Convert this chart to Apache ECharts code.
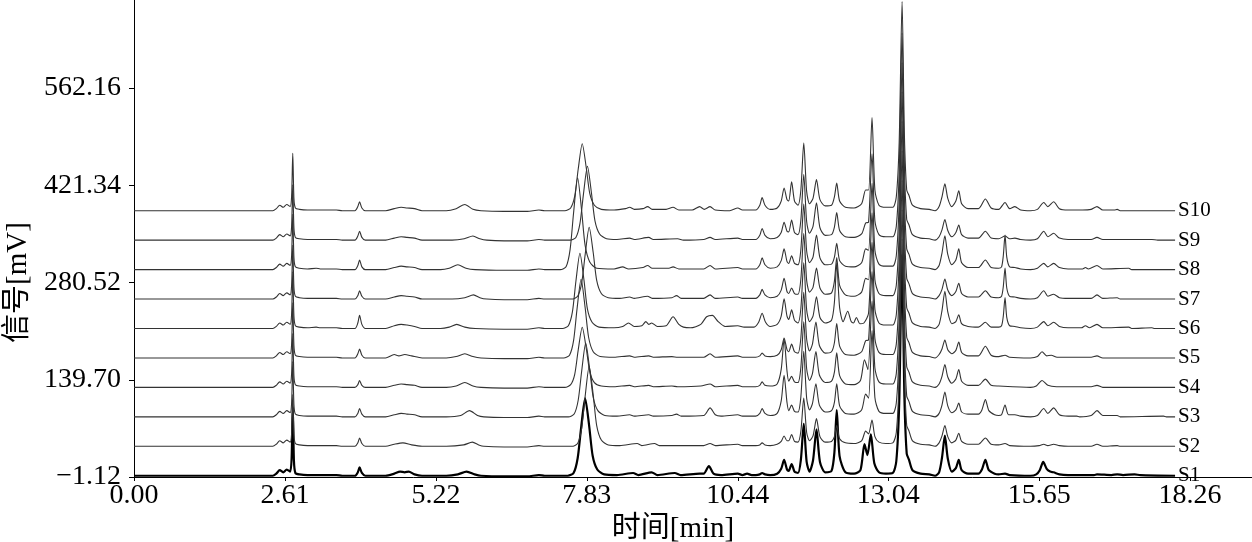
<!DOCTYPE html>
<html>
<head>
<meta charset="utf-8">
<script src="https://cdn.jsdelivr.net/npm/echarts@6/dist/echarts.min.js"></script>
<style>
html,body{margin:0;padding:0;background:#fff;}
#chart{width:1252px;height:542px;}
</style>
</head>
<body>
<div id="chart"></div>
<script>
// Tick values
const xTickValues = [0, 2.61, 5.22, 7.83, 10.44, 13.04, 15.65, 18.26];
const yTickValues = [-1.12, 139.70, 280.52, 421.34, 562.16];
const traceNames = ['S1','S2','S3','S4','S5','S6','S7','S8','S9','S10'];
// vertical offset of each stacked trace (mV)
const offsetBase = 0.7;
const offsetStep = 42.64;

// Signal of each trace relative to its own baseline: [time min, mV]
const s1 = [[0,0],[2.40,0],[2.46,3],[2.52,8],[2.58,5],[2.64,9],[2.70,6],[2.725,25],[2.745,100],[2.765,22],[2.79,4],[2.86,2],[3.0,1],[3.5,1],[3.6,0],
[3.82,0],[3.87,5],[3.90,12],[3.94,4],[4.0,0],
[4.35,0],[4.5,3],[4.6,6],[4.68,5],[4.75,6],[4.85,2],[4.98,0],
[5.4,0],[5.6,2],[5.75,6],[5.89,2],[6.0,0],[6.4,-1],[6.8,-1],[7.0,1],[7.1,0],
[7.50,0],[7.60,4],[7.67,25],[7.73,69],[7.80,112],[7.87,72],[7.93,29],[8.01,9],[8.13,2],
[8.35,1],[8.63,4],[8.72,1],[8.95,5],[9.05,1],[9.35,4],[9.45,1],[9.78,3],[9.85,3],[9.94,14],[10.02,3],[10.15,1],[10.44,3],[10.52,1],[10.6,3],[10.68,1],
[10.75,1],[10.82,2],[10.86,4],[10.91,2],[11.0,1],
[11.12,3],[11.19,10],[11.24,23],[11.29,9],[11.32,7],[11.37,17],[11.42,6],[11.48,4],
[11.53,23],[11.58,75],[11.63,20],[11.68,6],
[11.74,22],[11.80,67],[11.86,20],[11.95,5],
[12.06,7],[12.11,34],[12.15,95],[12.2,28],[12.3,5],[12.45,3],
[12.56,8],[12.63,46],[12.68,30],[12.74,60],[12.8,18],[12.88,5],[13.0,3],[13.12,4],
[13.18,21],[13.23,105],[13.28,320],[13.32,115],[13.36,32],[13.4,23],[13.46,8],[13.6,3],[13.75,2],[13.85,0],
[13.92,5],[13.97,26],[14.02,58],[14.07,25],[14.14,6],[14.21,11],[14.26,23],[14.31,8],[14.42,3],
[14.6,3],[14.66,9],[14.72,23],[14.78,8],[14.88,3],[14.95,2],
[15.06,3],[15.14,1],[15.5,0],
[15.6,2],[15.66,8],[15.72,20],[15.78,10],[15.84,6],[15.9,5],[16.0,2],[16.15,1],
[16.6,1],[16.65,2],[16.9,1],[17.0,2],[17.1,1],[17.3,2],[17.4,1],[18.0,0]];

const s2 = [[0,0],[2.40,0],[2.46,3],[2.52,8],[2.58,5],[2.64,9],[2.70,6],[2.725,19],[2.745,75],[2.765,17],[2.79,4],[2.86,2],[3.0,1],[3.5,1],[3.6,0],
[3.82,0],[3.87,5],[3.90,12],[3.94,4],[4.0,0],
[4.35,0],[4.5,3],[4.65,5],[4.8,2],[4.98,0],
[5.4,0],[5.7,2],[5.85,6],[5.96,2],[6.05,0],[6.4,-1],[6.8,-1],[7.0,1],[7.1,0],
[7.57,0],[7.67,4],[7.74,26],[7.80,72],[7.87,116],[7.94,74],[8.0,30],[8.08,9],[8.2,2],
[8.4,1],[8.7,4],[8.78,1],[9.0,4],[9.08,1],[9.85,1],[9.96,4],[10.05,1],[10.44,3],[10.52,1],
[10.75,1],[10.82,2],[10.86,5],[10.91,2],[11.0,1],
[11.12,3],[11.19,7],[11.24,15],[11.29,8],[11.32,8],[11.37,17],[11.42,7],[11.48,6],
[11.53,22],[11.58,70],[11.63,20],[11.68,8],
[11.74,15],[11.80,40],[11.86,14],[11.95,6],
[12.06,7],[12.11,14],[12.15,30],[12.2,11],[12.3,5],[12.45,4],
[12.58,8],[12.65,22],[12.7,18],[12.76,38],[12.81,14],[12.88,6],[13.0,4],[13.12,5],
[13.18,20],[13.23,100],[13.28,300],[13.32,108],[13.36,30],[13.4,22],[13.46,8],[13.6,3],[13.75,2],[13.85,0],
[13.92,5],[13.97,15],[14.02,30],[14.07,14],[14.14,5],[14.21,9],[14.26,19],[14.31,7],[14.42,3],
[14.6,3],[14.72,12],[14.82,3],[14.95,2],
[15.06,4],[15.14,1],[15.5,0],
[15.65,1],[15.73,3],[15.8,1],[15.9,3],[16.0,1],[16.15,0],[16.55,0],[16.65,3],[16.75,0],[17.0,1],[17.05,0],[18.0,0]];

const s3 = [[0,0],[2.40,0],[2.46,3],[2.52,8],[2.58,5],[2.64,9],[2.70,6],[2.725,20],[2.745,80],[2.765,18],[2.79,4],[2.86,2],[3.0,1],[3.5,1],[3.6,0],
[3.82,0],[3.87,5],[3.90,12],[3.94,4],[4.0,0],
[4.35,0],[4.5,3],[4.62,5],[4.72,4],[4.85,3],[4.98,0],
[5.4,0],[5.65,2],[5.8,9],[5.94,2],[6.05,0],[6.4,-1],[6.8,-1],[7.0,1],[7.1,0],
[7.51,0],[7.61,4],[7.68,24],[7.74,66],[7.81,107],[7.88,68],[7.94,28],[8.02,9],[8.14,2],
[8.35,1],[8.57,3],[8.65,1],[8.9,3],[8.98,1],[9.3,2],[9.38,4],[9.46,1],[9.85,2],[9.96,13],[10.05,3],[10.15,1],[10.44,3],[10.52,1],
[10.75,1],[10.82,5],[10.86,12],[10.91,5],[11.0,2],
[11.12,5],[11.19,23],[11.24,60],[11.29,21],[11.32,9],[11.37,17],[11.42,8],[11.48,7],
[11.53,29],[11.58,95],[11.63,27],[11.68,10],
[11.73,19],[11.79,48],[11.85,17],[11.95,7],
[12.06,9],[12.11,21],[12.15,48],[12.2,16],[12.3,5],[12.45,4],
[12.58,10],[12.65,33],[12.7,27],[12.76,125],[12.81,28],[12.88,8],[13.0,5],[13.12,5],
[13.18,20],[13.23,100],[13.28,300],[13.32,108],[13.36,30],[13.4,22],[13.46,8],[13.6,3],[13.75,2],[13.85,0],
[13.92,5],[13.97,17],[14.02,36],[14.07,16],[14.14,6],[14.21,10],[14.26,20],[14.31,7],[14.42,4],
[14.6,4],[14.66,10],[14.72,25],[14.78,9],[14.88,3],[14.95,2],
[15.0,3],[15.06,17],[15.12,3],[15.23,3],[15.33,1],[15.5,0],
[15.62,2],[15.73,12],[15.8,5],[15.9,13],[16.0,3],[16.15,1],
[16.3,1],[16.35,0],[16.55,2],[16.65,9],[16.75,2],[17.0,2],[17.05,0],[17.8,1],[17.85,0],[18.0,0]];

const s4 = [[0,0],[2.40,0],[2.46,3],[2.52,8],[2.58,5],[2.64,9],[2.70,6],[2.725,20],[2.745,78],[2.765,17],[2.79,4],[2.86,2],[3.0,1],[3.5,1],[3.6,0],
[3.82,0],[3.87,4],[3.90,10],[3.94,3],[4.0,0],
[4.35,0],[4.5,3],[4.62,5],[4.72,4],[4.85,3],[4.98,0],
[5.4,0],[5.57,2],[5.72,7],[5.86,2],[6.0,0],[6.4,-1],[6.8,-1],[7.0,1],[7.1,0],
[7.45,0],[7.55,4],[7.62,19],[7.68,54],[7.75,87],[7.82,56],[7.88,23],[7.96,7],[8.08,2],
[8.3,1],[8.57,3],[8.65,1],[8.9,3],[8.98,1],[9.3,2],[9.4,1],[9.8,2],[9.96,5],[10.05,1],[10.44,3],[10.52,1],
[10.75,1],[10.82,3],[10.86,8],[10.91,3],[11.0,2],
[11.12,5],[11.19,26],[11.24,70],[11.29,24],[11.32,9],[11.37,16],[11.42,8],[11.48,7],
[11.53,29],[11.58,95],[11.63,27],[11.68,10],
[11.73,20],[11.79,52],[11.85,18],[11.95,7],
[12.06,9],[12.11,22],[12.15,50],[12.2,17],[12.3,5],[12.45,4],
[12.56,10],[12.63,40],[12.69,26],[12.76,125],[12.81,28],[12.88,8],[13.0,5],[13.12,5],
[13.18,20],[13.23,100],[13.28,300],[13.32,108],[13.36,30],[13.4,22],[13.46,8],[13.6,3],[13.75,2],[13.85,0],
[13.92,5],[13.97,16],[14.02,33],[14.07,15],[14.14,6],[14.21,12],[14.26,26],[14.31,9],[14.42,3],
[14.6,3],[14.72,12],[14.82,3],[14.95,2],[15.5,0],
[15.6,2],[15.70,10],[15.8,3],[15.95,1],
[16.55,1],[16.65,3],[16.75,0],[18.0,0]];

const s5 = [[0,0],[2.40,0],[2.46,3],[2.52,8],[2.58,5],[2.64,9],[2.70,6],[2.725,20],[2.745,80],[2.765,18],[2.79,4],[2.86,2],[3.0,1],[3.5,1],[3.6,0],
[3.82,0],[3.87,6],[3.90,13],[3.94,4],[4.0,0],
[4.35,0],[4.5,5],[4.58,3],[4.68,5],[4.8,3],[4.98,0],
[5.4,0],[5.57,2],[5.72,6],[5.86,2],[6.0,0],[6.4,-1],[6.8,-1],[7.0,1],[7.1,0],
[7.43,0],[7.53,4],[7.60,25],[7.66,71],[7.73,114],[7.80,73],[7.86,30],[7.94,9],[8.06,2],
[8.3,1],[8.57,3],[8.65,1],[8.9,3],[8.98,1],[9.3,2],[9.4,1],[9.85,1],[9.96,6],[10.05,1],[10.44,3],[10.52,1],
[10.75,1],[10.82,3],[10.86,7],[10.91,3],[11.0,2],
[11.12,4],[11.19,12],[11.24,29],[11.29,12],[11.32,9],[11.37,20],[11.42,9],[11.48,7],
[11.53,29],[11.58,95],[11.63,27],[11.68,10],
[11.73,20],[11.79,52],[11.85,18],[11.95,7],
[12.06,9],[12.11,22],[12.15,50],[12.2,17],[12.3,5],[12.45,4],
[12.58,9],[12.65,25],[12.7,26],[12.76,125],[12.81,28],[12.88,8],[13.0,5],[13.12,5],
[13.18,20],[13.23,100],[13.28,300],[13.32,108],[13.36,30],[13.4,22],[13.46,8],[13.6,3],[13.75,2],[13.85,0],
[13.92,5],[13.97,13],[14.02,26],[14.07,12],[14.14,6],[14.21,11],[14.26,23],[14.31,8],[14.42,3],
[14.6,3],[14.72,17],[14.82,4],[14.95,2],
[15.06,4],[15.14,1],[15.5,0],
[15.62,2],[15.70,9],[15.78,3],[15.86,4],[15.96,1],
[16.55,1],[16.65,3],[16.75,0],[18.0,0]];

const s6 = [[0,0],[2.40,0],[2.46,3],[2.52,8],[2.58,5],[2.64,9],[2.70,6],[2.725,21],[2.745,82],[2.765,18],[2.79,4],[2.86,2],[3.0,1],[3.15,2],[3.22,1],[3.5,1],[3.6,0],
[3.82,0],[3.87,8],[3.90,19],[3.94,6],[4.0,0],
[4.35,0],[4.5,4],[4.62,6],[4.72,5],[4.85,3],[4.98,0],
[5.3,0],[5.45,2],[5.58,6],[5.72,2],[5.9,0],[6.4,-1],[6.8,-1],[7.0,1],[7.1,0],
[7.41,0],[7.51,4],[7.58,24],[7.64,68],[7.71,109],[7.78,70],[7.84,28],[7.92,9],[8.04,2],
[8.3,1],[8.45,3],[8.55,8],[8.65,3],[8.78,4],[8.85,10],[8.9,6],[8.95,8],[9.05,3],[9.2,4],[9.32,17],[9.42,6],[9.5,2],[9.62,1],[9.8,6],[9.9,17],[10.0,19],[10.1,10],[10.22,3],[10.44,4],[10.55,2],
[10.72,2],[10.8,9],[10.86,22],[10.92,9],[11.0,3],
[11.12,6],[11.19,18],[11.24,43],[11.29,18],[11.32,13],[11.37,27],[11.42,12],[11.48,8],
[11.53,29],[11.58,95],[11.63,27],[11.68,10],
[11.74,18],[11.80,46],[11.86,16],[11.95,8],
[12.06,12],[12.11,38],[12.15,95],[12.2,30],[12.26,10],[12.34,25],[12.4,10],[12.44,8],[12.49,16],[12.55,7],
[12.62,8],[12.7,22],[12.76,125],[12.81,28],[12.88,8],[13.0,5],[13.12,5],
[13.18,20],[13.23,100],[13.28,300],[13.32,108],[13.36,30],[13.4,22],[13.46,8],[13.6,3],[13.75,2],[13.85,0],
[13.92,6],[13.97,26],[14.02,54],[14.07,24],[14.14,7],[14.21,10],[14.26,20],[14.31,7],[14.42,3],
[14.6,2],[14.72,9],[14.82,2],[14.95,2],
[15.0,4],[15.03,18],[15.06,45],[15.09,16],[15.14,4],[15.23,3],[15.33,1],[15.5,0],
[15.62,2],[15.73,10],[15.8,4],[15.9,9],[16.0,3],[16.15,1],
[16.38,1],[16.45,4],[16.52,1],[16.65,6],[16.75,1],[17.2,2],[17.25,0],[17.6,1],[17.65,0],[18.0,0]];

const s7 = [[0,0],[2.40,0],[2.46,3],[2.52,8],[2.58,5],[2.64,9],[2.70,6],[2.725,20],[2.745,78],[2.765,17],[2.79,4],[2.86,2],[3.0,1],[3.5,1],[3.6,0],
[3.82,0],[3.87,5],[3.90,12],[3.94,4],[4.0,0],
[4.35,0],[4.5,3],[4.62,5],[4.72,4],[4.85,3],[4.98,0],
[5.5,0],[5.72,2],[5.87,6],[5.98,2],[6.1,0],[6.4,-1],[6.8,-1],[7.0,1],[7.1,0],
[7.57,0],[7.67,4],[7.74,23],[7.80,64],[7.87,104],[7.94,67],[8.0,27],[8.08,8],[8.2,2],
[8.4,1],[8.57,3],[8.65,1],[8.88,4],[8.96,1],[9.3,2],[9.38,5],[9.46,1],[9.85,1],[9.96,6],[10.05,1],[10.44,3],[10.52,1],
[10.75,1],[10.82,6],[10.86,14],[10.91,6],[11.0,2],
[11.12,4],[11.19,13],[11.24,30],[11.29,11],[11.32,8],[11.37,16],[11.42,8],[11.48,7],
[11.53,29],[11.58,95],[11.63,27],[11.68,10],
[11.74,17],[11.80,45],[11.86,16],[11.95,7],
[12.06,9],[12.11,26],[12.15,60],[12.2,20],[12.3,6],[12.45,4],
[12.58,10],[12.65,30],[12.7,28],[12.76,125],[12.81,28],[12.88,8],[13.0,5],[13.12,5],
[13.18,20],[13.23,100],[13.28,300],[13.32,108],[13.36,30],[13.4,22],[13.46,8],[13.6,3],[13.75,2],[13.85,0],
[13.92,5],[13.97,14],[14.02,29],[14.07,13],[14.14,5],[14.21,11],[14.26,23],[14.31,8],[14.42,3],
[14.6,3],[14.72,12],[14.82,3],[14.95,2],
[15.0,4],[15.03,18],[15.06,45],[15.09,16],[15.14,4],[15.23,3],[15.33,1],[15.5,0],
[15.62,2],[15.73,12],[15.8,4],[15.9,7],[16.0,2],[16.15,1],
[16.55,1],[16.65,6],[16.75,1],[17.0,2],[17.05,0],[18.0,0]];

const s8 = [[0,0],[2.40,0],[2.46,3],[2.52,8],[2.58,5],[2.64,9],[2.70,6],[2.725,20],[2.745,80],[2.765,18],[2.79,4],[2.86,2],[3.0,1],[3.15,2],[3.22,1],[3.5,1],[3.6,0],
[3.82,0],[3.87,6],[3.90,14],[3.94,4],[4.0,0],
[4.35,0],[4.5,3],[4.62,5],[4.72,4],[4.85,3],[4.98,0],
[5.3,0],[5.45,2],[5.6,7],[5.74,2],[5.9,0],[6.4,-1],[6.8,-1],[7.0,1],[7.1,0],
[7.37,0],[7.47,4],[7.54,29],[7.60,82],[7.67,133],[7.74,85],[7.80,35],[7.88,11],[8.0,2],
[8.3,1],[8.45,4],[8.55,1],[8.8,3],[8.88,6],[8.96,2],[9.25,2],[9.32,4],[9.42,1],[9.85,1],[9.96,6],[10.05,1],[10.44,3],[10.52,1],
[10.75,1],[10.82,7],[10.86,17],[10.91,7],[11.0,2],
[11.12,4],[11.19,13],[11.24,30],[11.29,12],[11.32,9],[11.37,20],[11.42,9],[11.48,7],
[11.53,29],[11.58,95],[11.63,27],[11.68,10],
[11.74,18],[11.80,50],[11.86,17],[11.95,7],
[12.06,8],[12.11,18],[12.15,38],[12.2,13],[12.3,5],[12.45,4],
[12.58,10],[12.65,30],[12.7,28],[12.76,125],[12.81,28],[12.88,8],[13.0,5],[13.12,5],
[13.18,20],[13.23,100],[13.28,300],[13.32,108],[13.36,30],[13.4,22],[13.46,8],[13.6,3],[13.75,2],[13.85,0],
[13.92,6],[13.97,24],[14.02,49],[14.07,22],[14.14,7],[14.21,14],[14.26,30],[14.31,10],[14.42,3],
[14.6,3],[14.72,14],[14.82,3],[14.95,2],
[15.0,4],[15.03,20],[15.06,50],[15.09,18],[15.14,4],[15.23,3],[15.33,1],[15.5,0],
[15.62,2],[15.73,9],[15.8,4],[15.9,9],[16.0,3],[16.15,1],
[16.4,1],[16.45,3],[16.5,1],[16.65,6],[16.75,1],[17.2,2],[17.25,0],[18.0,0]];

const s9 = [[0,0],[2.40,0],[2.46,3],[2.52,8],[2.58,5],[2.64,9],[2.70,6],[2.725,20],[2.745,80],[2.765,18],[2.79,4],[2.86,2],[3.0,1],[3.5,1],[3.6,0],
[3.82,0],[3.87,6],[3.90,13],[3.94,4],[4.0,0],
[4.35,0],[4.5,3],[4.62,5],[4.72,4],[4.85,3],[4.98,0],
[5.5,0],[5.71,2],[5.86,6],[5.98,2],[6.1,0],[6.4,-1],[6.8,-1],[7.0,1],[7.1,0],
[7.54,0],[7.64,4],[7.71,24],[7.77,66],[7.84,107],[7.91,68],[7.97,28],[8.05,9],[8.17,2],
[8.35,1],[8.57,3],[8.65,1],[8.9,4],[8.98,1],[9.4,2],[9.5,0],[9.85,1],[9.96,4],[10.05,1],[10.44,3],[10.52,1],
[10.75,1],[10.82,7],[10.86,17],[10.91,7],[11.0,2],
[11.12,4],[11.19,11],[11.24,26],[11.29,13],[11.32,12],[11.37,29],[11.42,11],[11.48,8],
[11.53,29],[11.58,95],[11.63,27],[11.68,10],
[11.74,20],[11.80,54],[11.86,18],[11.95,7],
[12.06,8],[12.11,19],[12.15,40],[12.2,14],[12.3,5],[12.45,4],
[12.58,9],[12.65,25],[12.7,26],[12.76,125],[12.81,28],[12.88,8],[13.0,5],[13.12,5],
[13.18,20],[13.23,100],[13.28,300],[13.32,108],[13.36,30],[13.4,22],[13.46,8],[13.6,3],[13.75,2],[13.85,0],
[13.92,5],[13.97,15],[14.02,30],[14.07,14],[14.14,5],[14.21,11],[14.26,22],[14.31,8],[14.42,3],
[14.6,3],[14.72,13],[14.82,3],[14.95,2],
[15.06,6],[15.14,2],[15.23,3],[15.33,1],[15.5,0],
[15.62,2],[15.73,13],[15.8,5],[15.9,10],[16.0,3],[16.15,1],[16.4,1],
[16.55,1],[16.65,4],[16.75,1],[17.6,1],[17.7,0],[18.0,0]];

const s10 = [[0,0],[2.40,0],[2.46,3],[2.52,8],[2.58,5],[2.64,9],[2.70,6],[2.725,21],[2.745,83],[2.765,18],[2.79,4],[2.86,2],[3.0,1],[3.5,1],[3.6,0],
[3.82,0],[3.87,6],[3.90,13],[3.94,4],[4.0,0],
[4.35,0],[4.5,3],[4.62,5],[4.72,4],[4.85,3],[4.98,0],
[5.4,0],[5.57,3],[5.72,9],[5.86,2],[6.0,0],[6.4,-1],[6.8,-1],[7.0,1],[7.1,0],
[7.45,0],[7.55,4],[7.62,21],[7.68,60],[7.75,97],[7.82,62],[7.88,25],[7.96,8],[8.08,2],
[8.3,1],[8.5,3],[8.57,5],[8.65,2],[8.8,3],[8.88,6],[8.96,2],[9.2,2],[9.32,5],[9.42,1],[9.65,1],[9.78,6],[9.86,2],[9.96,6],[10.05,1],[10.3,0],[10.44,4],[10.52,1],
[10.75,1],[10.82,8],[10.86,19],[10.91,8],[11.0,2],
[11.12,4],[11.19,14],[11.24,33],[11.29,16],[11.32,14],[11.37,42],[11.42,14],[11.48,8],
[11.53,30],[11.58,98],[11.63,28],[11.68,10],
[11.74,18],[11.80,45],[11.86,16],[11.95,7],
[12.06,8],[12.11,20],[12.15,40],[12.2,14],[12.3,5],[12.45,4],
[12.58,10],[12.65,30],[12.7,30],[12.76,135],[12.81,30],[12.88,8],[13.0,5],[13.12,5],
[13.18,20],[13.23,100],[13.28,303],[13.32,110],[13.36,30],[13.4,22],[13.46,8],[13.6,3],[13.75,2],[13.85,0],
[13.92,6],[13.97,20],[14.02,39],[14.07,18],[14.14,6],[14.21,14],[14.26,29],[14.31,10],[14.42,3],
[14.6,3],[14.72,17],[14.82,4],[14.95,2],
[15.06,12],[15.14,3],[15.23,6],[15.33,1],[15.5,0],
[15.62,2],[15.73,12],[15.8,6],[15.9,13],[16.0,3],[16.15,1],[16.4,1],
[16.55,2],[16.65,6],[16.75,1],[16.95,1],[17.0,2],[17.05,0],[18.0,0]];

const traces = [s1, s2, s3, s4, s5, s6, s7, s8, s9, s10];

const serif = "'Liberation Serif', 'Times New Roman', 'Noto Sans CJK SC', serif";

const chart = echarts.init(document.getElementById('chart'), null, {renderer: 'canvas'});

const series = traces.map((tr, i) => ({
  name: traceNames[i],
  type: 'line',
  data: tr.map(p => [p[0], p[1] + offsetBase + i * offsetStep]),
  showSymbol: false,
  symbol: 'none',
  silent: true,
  clip: true,
  smooth: 0.25,
  lineStyle: i === 0 ? {color: '#000', width: 2.2} : {color: '#333', width: 1.1},
  endLabel: {
    show: true,
    formatter: traceNames[i],
    color: '#000',
    fontSize: 21,
    fontFamily: serif,
    distance: 3
  },
  emphasis: {disabled: true}
}));

chart.setOption({
  animation: false,
  backgroundColor: '#fff',
  grid: {left: 134, right: 0, top: 0, bottom: 65, containLabel: false, outerBoundsMode: 'none'},
  xAxis: {
    type: 'value',
    min: 0,
    max: 19.33,
    name: '时间[min]',
    nameLocation: 'middle',
    nameGap: 34,
    nameTextStyle: {fontSize: 29, fontFamily: serif, color: '#000', padding: [0, 40, 0, 0]},
    axisLine: {show: true, onZero: false, lineStyle: {color: '#000', width: 1}},
    axisTick: {show: true, customValues: xTickValues, length: 4, lineStyle: {color: '#000'}},
    axisLabel: {customValues: xTickValues, formatter: v => v.toFixed(2), fontSize: 28, fontFamily: serif, color: '#000', margin: 5},
    splitLine: {show: false}
  },
  yAxis: {
    type: 'value',
    min: -1.12,
    max: 689.6,
    name: '信号[mV]',
    nameLocation: 'middle',
    nameRotate: 90,
    nameGap: 100,
    nameTextStyle: {fontSize: 29, fontFamily: serif, color: '#000', padding: [0, 88, 0, 0]},
    axisLine: {show: true, onZero: false, lineStyle: {color: '#000', width: 1}},
    axisTick: {show: true, customValues: yTickValues, length: 5, lineStyle: {color: '#000'}},
    axisLabel: {customValues: yTickValues, formatter: v => v.toFixed(2).replace('-', '\u2212'), fontSize: 28, fontFamily: serif, color: '#000', margin: 13},
    splitLine: {show: false}
  },
  series: series
});
</script>
</body>
</html>
